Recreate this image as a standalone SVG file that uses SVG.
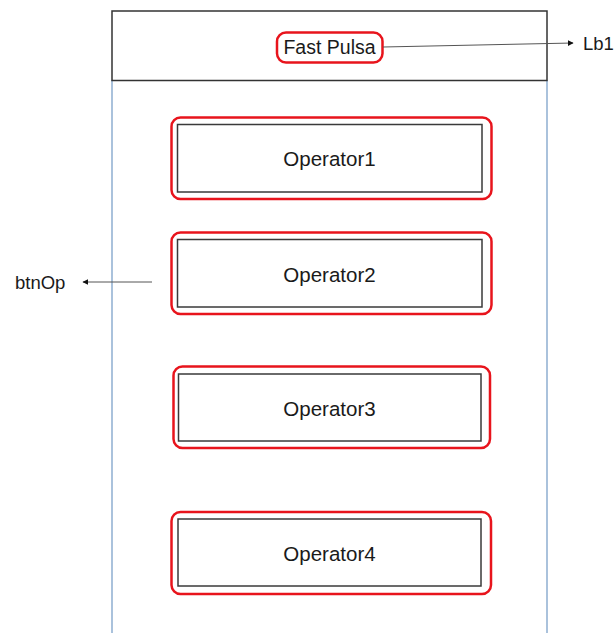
<svg xmlns="http://www.w3.org/2000/svg" width="614" height="633" viewBox="0 0 614 633">
<style>
.lbl{font-family:"Liberation Sans",Arial,sans-serif;font-size:20.5px;fill:#1a1a1a;text-anchor:middle}
.hdr{font-family:"Liberation Sans",Arial,sans-serif;font-size:19.5px;fill:#1a1a1a;text-anchor:middle}
.side{font-family:"Liberation Sans",Arial,sans-serif;font-size:18.5px;fill:#1a1a1a}
.red{fill:none;stroke:#e8141c;stroke-width:2.5}
.inner{fill:#fff;stroke:#3a3a3a;stroke-width:1.5}
.frame{stroke:#8eaed0;stroke-width:1.5}
.conn{stroke:#555;stroke-width:1;fill:none}
</style>
<defs>
<marker id="ah" viewBox="0 0 10 10" refX="9" refY="5" markerWidth="6" markerHeight="6" orient="auto-start-reverse" markerUnits="userSpaceOnUse">
<path d="M0,0 L10,5 L0,10 z" fill="#111"/>
</marker>
</defs>
<rect width="614" height="633" fill="#fff"/>
<g id="frame">
<line class="frame" x1="112" y1="80" x2="112" y2="633"/>
<line class="frame" x1="547" y1="80" x2="547" y2="633"/>
</g>
<g id="header">
<rect x="112" y="11" width="435" height="69.5" fill="#fff" stroke="#333" stroke-width="1.5"/>
<rect class="red" x="277" y="32.5" width="105.5" height="30" rx="9"/>
<text class="hdr" x="329.5" y="54">Fast Pulsa</text>
</g>
<g id="op1">
<rect class="red" x="171.5" y="117.5" width="320" height="81.5" rx="9"/>
<rect class="inner" x="177.5" y="124.5" width="304.5" height="67.5"/>
<text class="lbl" x="329.5" y="165.5">Operator1</text>
</g>
<g id="op2">
<rect class="red" x="171.5" y="232.5" width="320" height="81.5" rx="9"/>
<rect class="inner" x="177.5" y="239.5" width="304.5" height="67.5"/>
<text class="lbl" x="329.5" y="281.5">Operator2</text>
</g>
<g id="op3">
<rect class="red" x="173.5" y="366.5" width="316.5" height="81.5" rx="9"/>
<rect class="inner" x="178.5" y="374" width="302.5" height="67"/>
<text class="lbl" x="329.5" y="415.5">Operator3</text>
</g>
<g id="op4">
<rect class="red" x="171.5" y="512" width="319.5" height="82" rx="9"/>
<rect class="inner" x="178" y="519" width="303" height="67"/>
<text class="lbl" x="329.5" y="560.5">Operator4</text>
</g>
<g id="lb1"><text class="side" x="583" y="50">Lb1</text></g>
<g id="btnOp"><text class="side" x="15" y="288.5">btnOp</text></g>
<g id="connectors">
<line class="conn" x1="383" y1="47" x2="573" y2="43" marker-end="url(#ah)"/>
<line class="conn" x1="152" y1="282" x2="83" y2="282" marker-end="url(#ah)"/>
</g>
</svg>
